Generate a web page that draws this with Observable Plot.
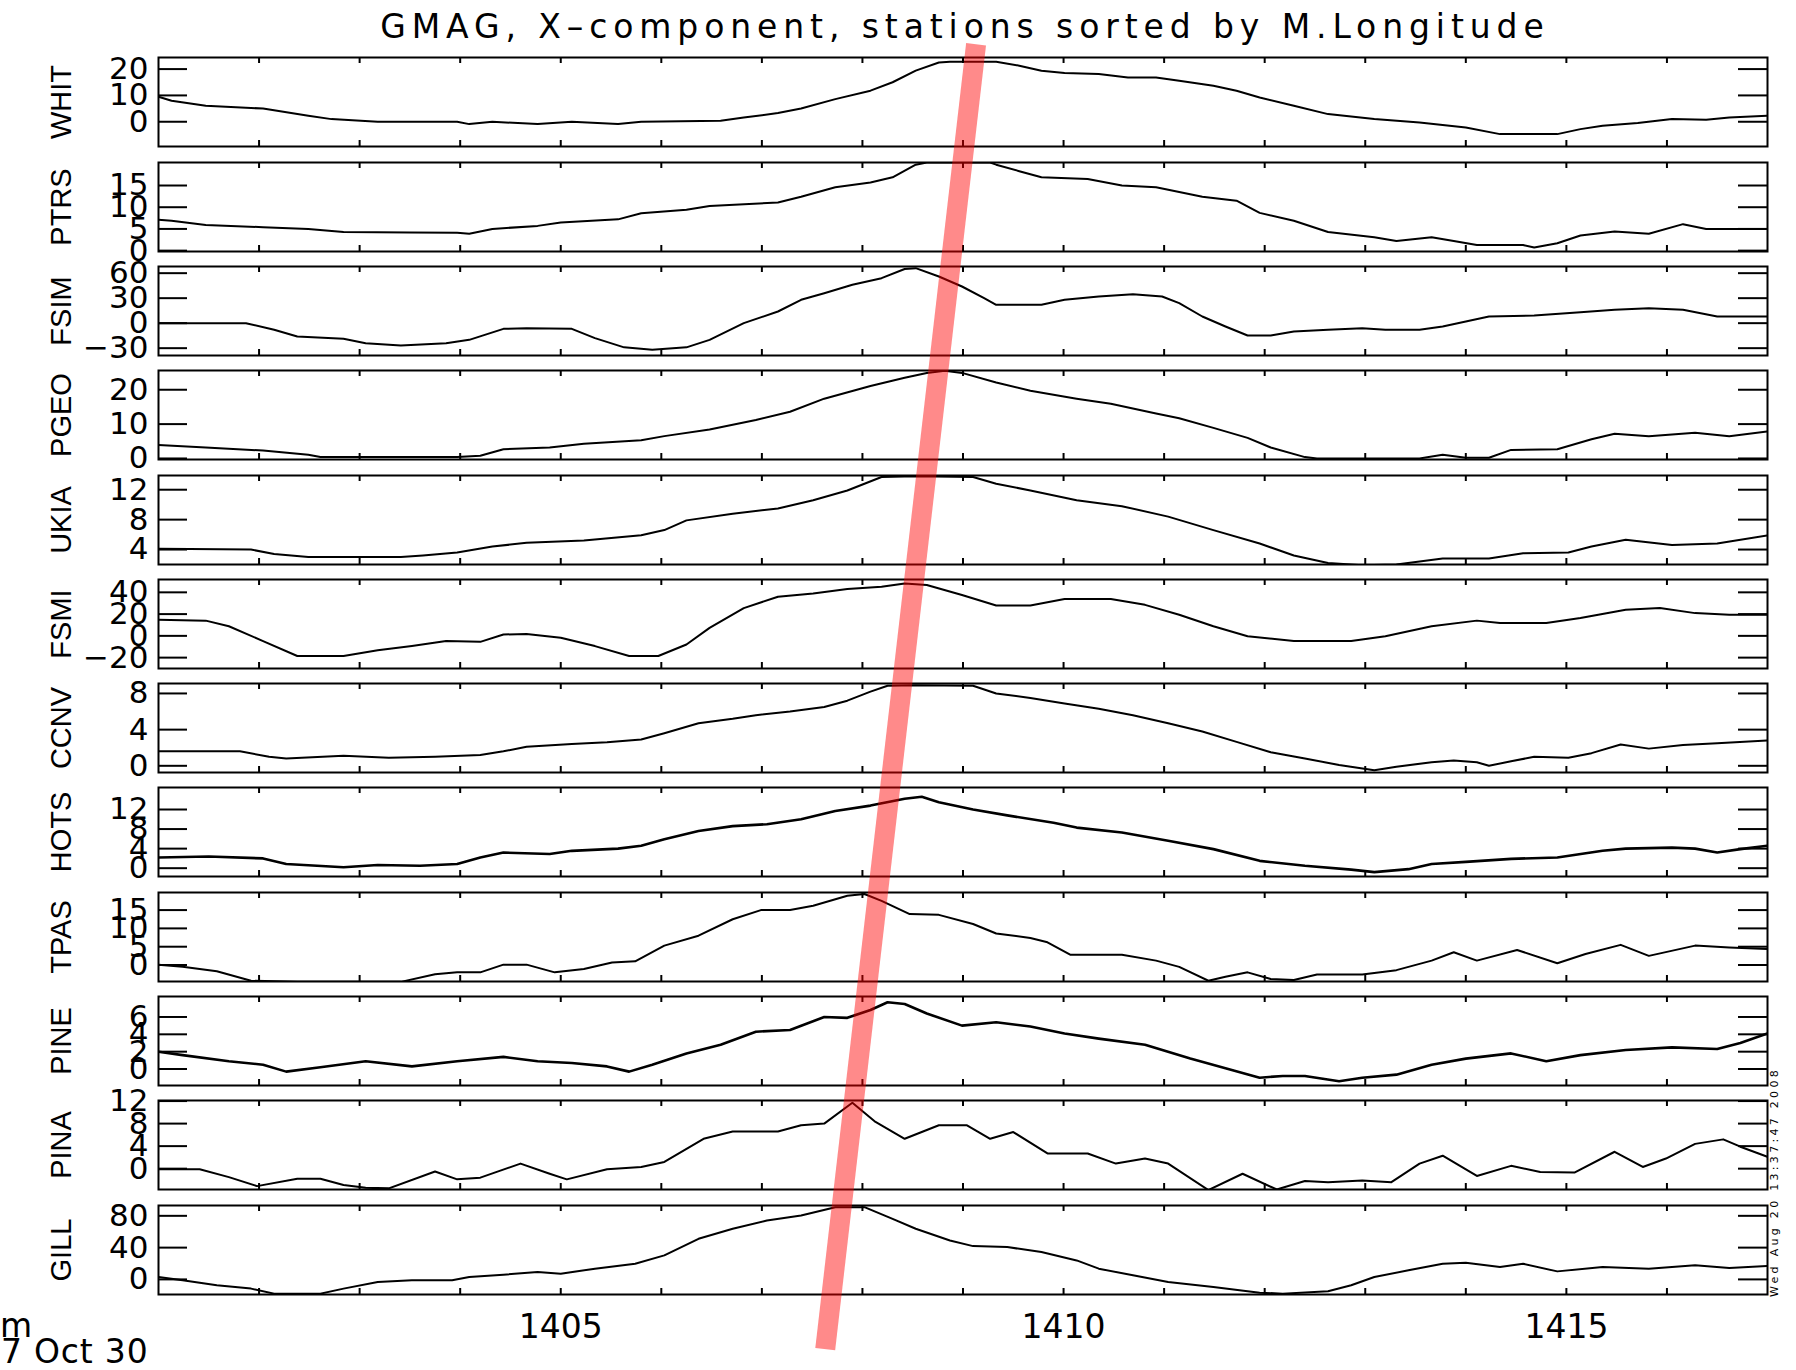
<!DOCTYPE html>
<html><head><meta charset="utf-8">
<script src="https://cdn.jsdelivr.net/npm/d3@7"></script>
<script src="https://cdn.jsdelivr.net/npm/@observablehq/plot@0.6"></script>
<style>
body{margin:0;background:#fff;}
#chart{position:relative;width:1796px;height:1370px;overflow:hidden;background:#fff;font-family:"DejaVu Sans",sans-serif;color:#000;}
.abs{position:absolute;white-space:nowrap;line-height:1;}
</style></head><body><div id="chart"></div>
<script>
// ---- data (time in HHMM.fraction-of-minute, values in nT) ----
const stations = ["WHIT","PTRS","FSIM","PGEO","UKIA","FSMI","CCNV","HOTS","TPAS","PINE","PINA","GILL"];
const xDomain = [1401, 1417];
const minuteTicks = [1402,1403,1404,1405,1406,1407,1408,1409,1410,1411,1412,1413,1414,1415,1416];
const timeLabels = [1405, 1410, 1415];

const WHIT = [[1401.0,9.5],[1401.13,8],[1401.47,6.1],[1402.04,5],[1402.49,2.3],[1402.72,1],[1403.18,0],[1403.97,0],[1404.09,-0.9],[1404.32,0],[1404.77,-0.9],[1405.11,0],[1405.57,-0.9],[1405.8,0],[1406.59,0.4],[1406.82,1.6],[1407.16,3.3],[1407.39,5],[1407.73,8.6],[1408.08,11.8],[1408.3,15],[1408.53,19.4],[1408.76,22.5],[1408.87,22.8],[1409.33,22.8],[1409.56,21.3],[1409.78,19.4],[1410.01,18.5],[1410.35,18.1],[1410.64,16.8],[1410.92,16.8],[1411.15,15.6],[1411.49,13.7],[1411.72,11.8],[1411.95,9.2],[1412.29,6.1],[1412.63,2.9],[1413.09,1],[1413.54,-0.3],[1414.0,-2.2],[1414.34,-4.7],[1414.91,-4.7],[1415.14,-2.8],[1415.36,-1.5],[1415.71,-0.5],[1416.05,1],[1416.39,0.8],[1416.62,1.6],[1417.0,2.3]];
const PTRS = [[1401.0,7.1],[1401.13,6.9],[1401.47,5.9],[1402.04,5.4],[1402.49,5.0],[1402.84,4.3],[1403.5,4.2],[1403.97,4.1],[1404.09,3.9],[1404.32,5.0],[1404.77,5.7],[1405.0,6.5],[1405.57,7.2],[1405.8,8.6],[1406.25,9.4],[1406.48,10.3],[1407.16,11.1],[1407.39,12.4],[1407.73,14.6],[1408.08,15.7],[1408.3,16.9],[1408.53,19.8],[1408.64,20.3],[1409.27,20.3],[1409.33,19.8],[1409.56,18.3],[1409.78,16.9],[1410.24,16.5],[1410.58,15.0],[1410.92,14.6],[1411.15,13.5],[1411.38,12.4],[1411.72,11.5],[1411.95,8.7],[1412.29,6.9],[1412.63,4.3],[1413.09,3.1],[1413.31,2.2],[1413.66,3.1],[1413.88,2.2],[1414.11,1.3],[1414.57,1.3],[1414.68,0.7],[1414.91,1.7],[1415.14,3.5],[1415.48,4.4],[1415.82,3.9],[1416.16,6.1],[1416.39,5.0],[1417.0,5.0]];
const FSIM = [[1401.0,0],[1401.87,0],[1402.15,-8],[1402.38,-16],[1402.84,-18.8],[1403.06,-24],[1403.41,-26.8],[1403.86,-24],[1404.09,-20],[1404.43,-6.8],[1404.66,-6],[1405.11,-6.8],[1405.34,-18],[1405.63,-29],[1405.91,-32],[1406.25,-29],[1406.48,-20],[1406.82,0],[1407.16,14],[1407.39,28],[1407.62,36],[1407.9,46],[1408.19,54],[1408.42,65],[1408.53,66],[1408.76,56],[1408.99,44],[1409.21,30],[1409.33,22],[1409.78,22],[1410.01,28],[1410.35,32],[1410.69,34.8],[1410.98,32],[1411.15,24],[1411.38,8],[1411.61,-4],[1411.83,-14.8],[1412.06,-14.8],[1412.29,-10],[1412.63,-8],[1412.97,-6],[1413.2,-8],[1413.54,-8],[1413.77,-4],[1414.0,2],[1414.23,8],[1414.68,9.2],[1415.14,13.2],[1415.48,16],[1415.82,18],[1416.16,16],[1416.5,8],[1417.0,8]];
const PGEO = [[1401.0,3.9],[1401.47,3.2],[1402.04,2.3],[1402.49,1.1],[1402.61,0.4],[1403.97,0.4],[1404.2,0.8],[1404.43,2.7],[1404.89,3.2],[1405.23,4.3],[1405.8,5.3],[1406.03,6.5],[1406.48,8.4],[1406.94,11.2],[1407.28,13.6],[1407.62,17.4],[1408.08,21.1],[1408.42,23.5],[1408.64,24.9],[1408.82,25.5],[1408.99,24.9],[1409.33,22.1],[1409.67,19.7],[1410.13,17.4],[1410.47,15.9],[1410.92,13.1],[1411.15,11.7],[1411.49,8.9],[1411.83,6.0],[1412.06,3.2],[1412.4,0.4],[1412.52,0],[1413.54,0],[1413.77,1.1],[1414.0,0.2],[1414.23,0.2],[1414.45,2.5],[1414.91,2.7],[1415.25,5.6],[1415.48,7.2],[1415.82,6.5],[1416.28,7.5],[1416.62,6.5],[1417.0,7.9]];
const UKIA = [[1401.0,4.1],[1401.92,4.0],[1402.15,3.4],[1402.49,3.0],[1403.41,3.0],[1403.63,3.2],[1403.97,3.6],[1404.32,4.4],[1404.66,4.9],[1405.23,5.2],[1405.8,5.9],[1406.03,6.6],[1406.25,7.9],[1406.71,8.8],[1407.16,9.5],[1407.51,10.6],[1407.85,11.9],[1408.19,13.7],[1408.53,13.8],[1409.1,13.7],[1409.33,12.8],[1409.67,11.9],[1410.13,10.6],[1410.58,9.8],[1411.04,8.4],[1411.49,6.6],[1411.95,4.8],[1412.29,3.2],[1412.63,2.2],[1412.97,1.9],[1413.31,2.0],[1413.77,2.8],[1414.23,2.8],[1414.57,3.5],[1415.02,3.6],[1415.25,4.4],[1415.59,5.3],[1416.05,4.6],[1416.5,4.8],[1417.0,5.9]];
const FSMI = [[1401.0,14.8],[1401.47,14],[1401.7,8.8],[1402.04,-4.8],[1402.38,-18.5],[1402.84,-18.5],[1403.18,-13.3],[1403.52,-9.4],[1403.86,-4.8],[1404.2,-5.5],[1404.43,1.2],[1404.66,1.8],[1405.0,-1.8],[1405.34,-9.4],[1405.68,-18.5],[1405.97,-18.5],[1406.25,-7.9],[1406.48,7.3],[1406.82,25.5],[1407.16,36],[1407.51,39],[1407.85,43],[1408.19,45.2],[1408.42,48.2],[1408.64,46.7],[1408.99,37.6],[1409.33,27.9],[1409.67,27.9],[1410.01,33.9],[1410.47,33.9],[1410.81,28.5],[1411.15,19.4],[1411.49,8.8],[1411.83,-0.3],[1412.29,-4.8],[1412.86,-4.8],[1413.2,-0.3],[1413.66,8.8],[1414.11,14],[1414.34,11.8],[1414.8,11.8],[1415.14,16.4],[1415.59,23.9],[1415.93,25.5],[1416.28,20.9],[1416.62,19.4],[1417.0,19.4]];
const CCNV = [[1401.0,1.6],[1401.81,1.6],[1402.1,1.0],[1402.27,0.8],[1402.84,1.1],[1403.29,0.9],[1403.75,1.0],[1404.2,1.2],[1404.43,1.6],[1404.66,2.1],[1405.11,2.4],[1405.46,2.6],[1405.8,2.9],[1406.03,3.6],[1406.37,4.7],[1406.71,5.2],[1406.94,5.6],[1407.28,6.0],[1407.62,6.5],[1407.85,7.2],[1408.08,8.2],[1408.25,8.85],[1408.53,8.9],[1409.1,8.85],[1409.33,8.0],[1409.67,7.5],[1410.01,6.9],[1410.35,6.3],[1410.69,5.6],[1411.04,4.7],[1411.38,3.8],[1411.72,2.65],[1412.06,1.5],[1412.4,0.8],[1412.74,0.1],[1413.09,-0.5],[1413.31,-0.1],[1413.66,0.4],[1413.88,0.6],[1414.11,0.4],[1414.23,0],[1414.45,0.5],[1414.68,1.0],[1415.02,0.9],[1415.25,1.4],[1415.54,2.35],[1415.82,1.9],[1416.16,2.3],[1416.5,2.5],[1417.0,2.8]];
const HOTS = [[1401.0,2.2],[1401.5,2.4],[1402.04,2.0],[1402.27,0.85],[1402.84,0.2],[1403.18,0.65],[1403.6,0.5],[1403.97,0.85],[1404.2,2.2],[1404.43,3.2],[1404.89,2.9],[1405.11,3.55],[1405.57,4.0],[1405.8,4.6],[1406.03,5.9],[1406.37,7.6],[1406.71,8.6],[1407.05,9.0],[1407.39,10.0],[1407.73,11.7],[1408.08,12.8],[1408.42,14.2],[1408.59,14.6],[1408.76,13.5],[1409.1,12.0],[1409.44,10.8],[1409.9,9.3],[1410.13,8.3],[1410.58,7.3],[1411.04,5.6],[1411.49,3.9],[1411.95,1.5],[1412.4,0.5],[1412.86,-0.3],[1413.09,-0.8],[1413.43,-0.2],[1413.66,0.85],[1414.0,1.3],[1414.45,1.9],[1414.91,2.2],[1415.36,3.55],[1415.59,4.0],[1416.05,4.2],[1416.28,4.0],[1416.5,3.2],[1416.73,3.9],[1417.0,4.6]];
const TPAS = [[1401.0,0.1],[1401.24,-0.5],[1401.58,-1.7],[1401.92,-4.3],[1402.38,-4.6],[1403.41,-4.6],[1403.75,-2.5],[1403.97,-2.0],[1404.2,-2.0],[1404.43,0.1],[1404.66,0.1],[1404.94,-2.0],[1405.23,-1.1],[1405.51,0.7],[1405.74,1.0],[1406.03,5.3],[1406.37,8.0],[1406.71,12.5],[1406.99,15.0],[1407.28,15.0],[1407.51,16.2],[1407.85,18.9],[1408.02,19.4],[1408.19,17.5],[1408.47,13.9],[1408.76,13.7],[1409.1,11.2],[1409.33,8.6],[1409.67,7.4],[1409.84,6.2],[1410.07,2.8],[1410.58,2.8],[1410.92,1.2],[1411.15,-0.5],[1411.44,-4.3],[1411.61,-3.2],[1411.83,-2.0],[1412.06,-3.8],[1412.29,-4.1],[1412.52,-2.6],[1412.97,-2.6],[1413.31,-1.4],[1413.66,1.2],[1413.88,3.5],[1414.11,1.2],[1414.51,4.1],[1414.91,0.5],[1415.19,3.0],[1415.54,5.5],[1415.82,2.5],[1416.28,5.3],[1416.62,4.8],[1417.0,4.4]];
const PINE = [[1401.0,2.0],[1401.24,1.6],[1401.7,0.9],[1402.04,0.5],[1402.27,-0.3],[1402.61,0.2],[1403.06,0.9],[1403.52,0.3],[1403.97,0.9],[1404.43,1.4],[1404.77,0.9],[1405.11,0.7],[1405.46,0.3],[1405.68,-0.3],[1405.91,0.5],[1406.25,1.8],[1406.59,2.8],[1406.94,4.3],[1407.28,4.5],[1407.62,6.0],[1407.85,5.9],[1408.08,6.8],[1408.25,7.7],[1408.42,7.5],[1408.64,6.4],[1408.99,5.0],[1409.33,5.4],[1409.67,4.9],[1410.01,4.1],[1410.35,3.5],[1410.81,2.8],[1411.26,1.2],[1411.61,0.1],[1411.95,-1.0],[1412.18,-0.8],[1412.4,-0.8],[1412.74,-1.4],[1412.97,-1.0],[1413.31,-0.65],[1413.66,0.5],[1414.0,1.2],[1414.45,1.8],[1414.8,0.9],[1415.14,1.6],[1415.59,2.2],[1416.05,2.5],[1416.5,2.3],[1416.73,3.0],[1417.0,4.1]];
const PINA = [[1401.0,-0.1],[1401.41,-0.1],[1401.7,-1.5],[1401.98,-3.1],[1402.38,-1.8],[1402.61,-1.8],[1402.84,-2.9],[1403.06,-3.4],[1403.29,-3.5],[1403.75,-0.5],[1403.97,-1.9],[1404.2,-1.6],[1404.6,0.9],[1404.89,-0.9],[1405.06,-1.9],[1405.46,-0.1],[1405.8,0.3],[1406.03,1.2],[1406.42,5.3],[1406.71,6.6],[1407.16,6.6],[1407.39,7.7],[1407.62,8.0],[1407.9,11.7],[1408.13,8.3],[1408.42,5.3],[1408.76,7.7],[1409.04,7.7],[1409.27,5.3],[1409.5,6.5],[1409.84,2.7],[1410.24,2.7],[1410.52,0.9],[1410.81,1.8],[1411.04,0.9],[1411.44,-3.8],[1411.78,-0.9],[1412.12,-3.7],[1412.4,-2.2],[1412.63,-2.4],[1412.97,-2.1],[1413.26,-2.4],[1413.54,0.9],[1413.77,2.3],[1414.11,-1.3],[1414.45,0.5],[1414.74,-0.6],[1415.08,-0.7],[1415.48,3.0],[1415.76,0.3],[1415.99,1.8],[1416.28,4.4],[1416.56,5.2],[1416.73,3.9],[1417.0,2.1]];
const GILL = [[1401.0,3],[1401.24,-1.2],[1401.58,-7.4],[1401.92,-11.6],[1402.15,-17.9],[1402.61,-17.9],[1402.84,-11.6],[1403.18,-3.3],[1403.52,-1.2],[1403.92,-1.2],[1404.09,3],[1404.43,5.9],[1404.77,9.3],[1405.0,7.2],[1405.34,13.5],[1405.74,19.7],[1406.03,30.2],[1406.37,51.1],[1406.71,63.7],[1407.05,74.1],[1407.39,80.4],[1407.73,90.9],[1408.02,90.9],[1408.3,76.2],[1408.53,63.7],[1408.87,49],[1409.1,41.9],[1409.44,40.7],[1409.78,34.4],[1410.13,23.9],[1410.35,13.5],[1410.69,5.1],[1411.04,-3.3],[1411.49,-9.5],[1411.95,-16.7],[1412.18,-17.9],[1412.63,-15],[1412.86,-7.4],[1413.09,3],[1413.43,11.4],[1413.77,19.7],[1414.0,21],[1414.34,15.6],[1414.57,19.7],[1414.91,10.1],[1415.36,15.6],[1415.82,13.5],[1416.28,17.7],[1416.62,14.3],[1417.0,16.8]];

const yTickValues = [[0,10,20],[0,5,10,15],[-30,0,30,60],[0,10,20],[4,8,12],[-20,0,20,40],[0,4,8],[0,4,8,12],[0,5,10,15],[0,2,4,6],[0,4,8,12],[0,40,80]];
const yDomains = [[-9.4,24.4],[-0.2,20.3],[-38.8,68],[-0.3,25.6],[2.0,13.9],[-30,51.8],[-0.74,9.1],[-1.7,16.5],[-4.5,19.8],[-1.9,8.36],[-3.7,12.1],[-19,93]];

// red annotation line: [time, panel row] at both ends
const redLine = [[1409.13,-0.13],[1407.63,12.38]];

const titleText = "GMAG, X\u2013component, stations sorted by M.Longitude";
const stampText = "Wed Aug 20 13:37:47 2008";
const unitText = "m";
const dateText = "7 Oct 30";

// ---- drawing ----
const seriesList = [WHIT,PTRS,FSIM,PGEO,UKIA,FSMI,CCNV,HOTS,TPAS,PINE,PINA,GILL];
const fuzzyStations = new Set(["HOTS","PINE"]);   // style only: noisier traces drawn a little heavier
const W = 1796, H = 1370, LEFT = 158, RIGHT = 29, TOP0 = 57.3, PITCH = 104.3, PH = 89, PAD = 30;
const NUMFONT = '"DejaVu Sans", sans-serif';
const NAMEFONT = '"Liberation Sans", Arial, sans-serif';
const plotW = W - LEFT - RIGHT;
const chart = document.getElementById("chart");
const fmt = d => d < 0 ? "\u2212" + Math.abs(d) : String(d);

stations.forEach((name, i) => {
  const data = seriesList[i].map(([t, v]) => ({t, v}));
  const ticks = yTickValues[i];
  const marks = [
    Plot.line(data, {x: "t", y: "v", stroke: "black", strokeWidth: fuzzyStations.has(name) ? 2.6 : 2, clip: true}),
    Plot.tickY(ticks, {y: d => d, stroke: "black", strokeWidth: 2, insetRight: plotW - 29}),
    Plot.tickY(ticks, {y: d => d, stroke: "black", strokeWidth: 2, insetLeft: plotW - 29}),
    Plot.tickX(minuteTicks, {x: d => d, stroke: "black", strokeWidth: 2, insetBottom: PH - 6}),
    Plot.tickX(minuteTicks, {x: d => d, stroke: "black", strokeWidth: 2, insetTop: PH - 6}),
    Plot.text(ticks, {y: d => d, text: d => fmt(d), frameAnchor: "left", textAnchor: "end", dx: -10, fontSize: 31, fontFamily: NUMFONT, fill: "black"}),
    Plot.text([name], {text: d => d, frameAnchor: "left", textAnchor: "middle", dx: -97, rotate: -90, fontSize: 29, fontFamily: NAMEFONT, fill: "black"}),
    Plot.frame({stroke: "black", strokeWidth: 2})
  ];
  if (i === stations.length - 1) {
    marks.push(Plot.text(timeLabels, {x: d => d, text: d => String(d), frameAnchor: "bottom", lineAnchor: "top", dy: 20, fontSize: 33, fontFamily: NUMFONT, fill: "black"}));
  }
  const svg = Plot.plot({
    width: W, height: PH + 2 * PAD,
    marginLeft: LEFT, marginRight: RIGHT, marginTop: PAD, marginBottom: PAD,
    x: {domain: xDomain, axis: null},
    y: {domain: yDomains[i], axis: null},
    style: {background: "transparent", overflow: "visible", fontFamily: NUMFONT, color: "black"},
    marks
  });
  svg.style.position = "absolute";
  svg.style.left = "0px";
  svg.style.top = (TOP0 + i * PITCH - PAD) + "px";
  chart.appendChild(svg);
});

function addText(txt, css) {
  const d = document.createElement("div");
  d.className = "abs";
  d.textContent = txt;
  Object.assign(d.style, css);
  chart.appendChild(d);
  return d;
}
addText(titleText, {left: "962px", top: "10px", fontSize: "33px", letterSpacing: "5.9px", transform: "translateX(-50%)", paddingLeft: "5.9px"});
addText(unitText, {left: "0px", top: "1309px", fontSize: "33px"});
addText(dateText, {left: "1px", top: "1335px", fontSize: "33px", letterSpacing: "0.8px"});
addText(stampText, {left: "1774px", top: "1182px", fontSize: "11px", letterSpacing: "3.3px", transform: "translate(-50%,-50%) rotate(-90deg)"});

// red annotation overlay sharing the time axis; y is in panel rows
const overlay = Plot.plot({
  width: W, height: H,
  marginLeft: LEFT, marginRight: RIGHT, marginTop: TOP0, marginBottom: H - (TOP0 + 12 * PITCH),
  x: {domain: xDomain, axis: null},
  y: {domain: [12, 0], axis: null, range: [TOP0 + 12 * PITCH, TOP0]},
  style: {background: "transparent", overflow: "visible"},
  marks: [
    Plot.line(redLine, {x: d => d[0], y: d => d[1], stroke: "red", strokeOpacity: 0.46, strokeWidth: 20, strokeLinecap: "butt"})
  ]
});
overlay.style.position = "absolute";
overlay.style.left = "0px";
overlay.style.top = "0px";
overlay.style.pointerEvents = "none";
chart.appendChild(overlay);
</script></body></html>
